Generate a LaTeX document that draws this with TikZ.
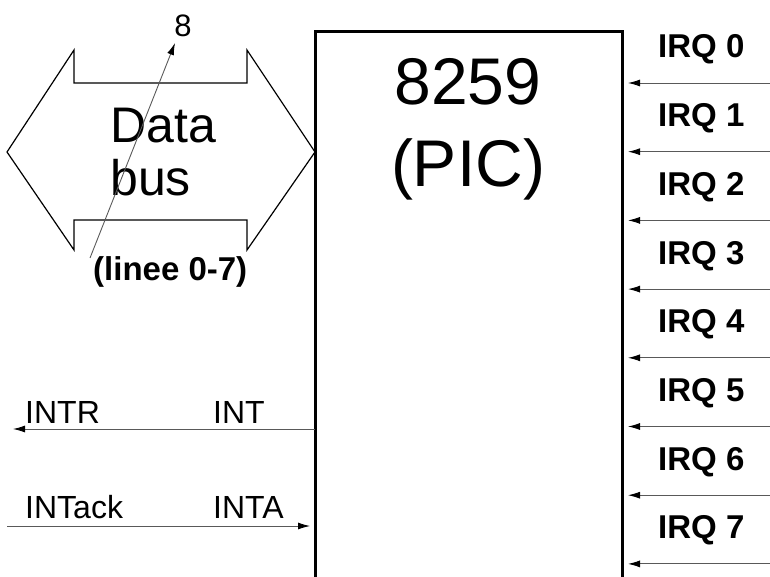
\documentclass[tikz,border=0pt]{standalone}
\usepackage{fontspec}
\setmainfont{Liberation Sans}
\usetikzlibrary{arrows.meta,positioning,calc}

\begin{document}
\begin{tikzpicture}[x=1pt, y=-1pt,
  >={Latex[length=12pt,width=7pt]},
  sig/.style={draw=black!65, line width=0.9pt, ->, >={Latex[length=12pt,width=7pt,fill=black,color=black]}},
  lbl/.style={inner sep=0pt, anchor=base west, font=\fontsize{32}{38}\selectfont},
  irq/.style={inner sep=0pt, anchor=base west, font=\fontsize{33}{40}\selectfont\bfseries},
  big/.style={inner sep=0pt, anchor=base, font=\fontsize{66}{80}\selectfont}]
\useasboundingbox (0,0) rectangle (770,577);
% the 8259 chip (open at the bottom)
\draw[line width=3pt] (315,590) -- (315,32) -- (622,32) -- (622,590);
\node[big] (num) at (468,105) {8259};
\node[big] (pic) at (468,187) {(PIC)};
% data bus
\draw[line width=1.2pt] (7,152) -- (74,50) -- (74,83) -- (247,83) -- (247,50) -- (315,152)
  -- (247,250) -- (247,220) -- (74,220) -- (74,250) -- cycle;
\node[inner sep=0pt, anchor=base west, font=\fontsize{50}{53}\selectfont] (data) at (110,143) {Data};
\node[inner sep=0pt, anchor=base west, font=\fontsize{50}{53}\selectfont] (bus) at (110,196) {bus};
\node[inner sep=0pt, anchor=base, font=\fontsize{31}{36}\selectfont] (eight) at (183,37) {8};
\node[irq] (lines) at (93,280) {(linee 0-7)};
\coordinate (lo) at (90,258);
\coordinate (hi) at (175,43);
\draw[sig] (lo) -- (hi);
% INT / INTA
\coordinate (intout) at (315,429);
\coordinate (intr) at (13,429);
\draw[sig] (intout) -- (intr);
\node[lbl] (intrl) at (25,423) {INTR};
\node[lbl] (intl) at (213,423) {INT};
\coordinate (ackin) at (7,526);
\coordinate (inta) at (310,526);
\draw[sig] (ackin) -- (inta);
\node[lbl] (ackl) at (25,518) {INTack};
\node[lbl] (intal) at (213,518) {INTA};
% interrupt request lines
\foreach \k in {0,...,7} {
  \pgfmathsetmacro\ya{83+68.7*\k}
  \coordinate (in\k) at (770,\ya);
  \coordinate (pin\k) at (628,\ya);
  \draw[sig] (in\k) -- (pin\k);
  \node[irq] (irq\k) at (658,\ya-25) {IRQ \k};
}
\end{tikzpicture}
\end{document}
